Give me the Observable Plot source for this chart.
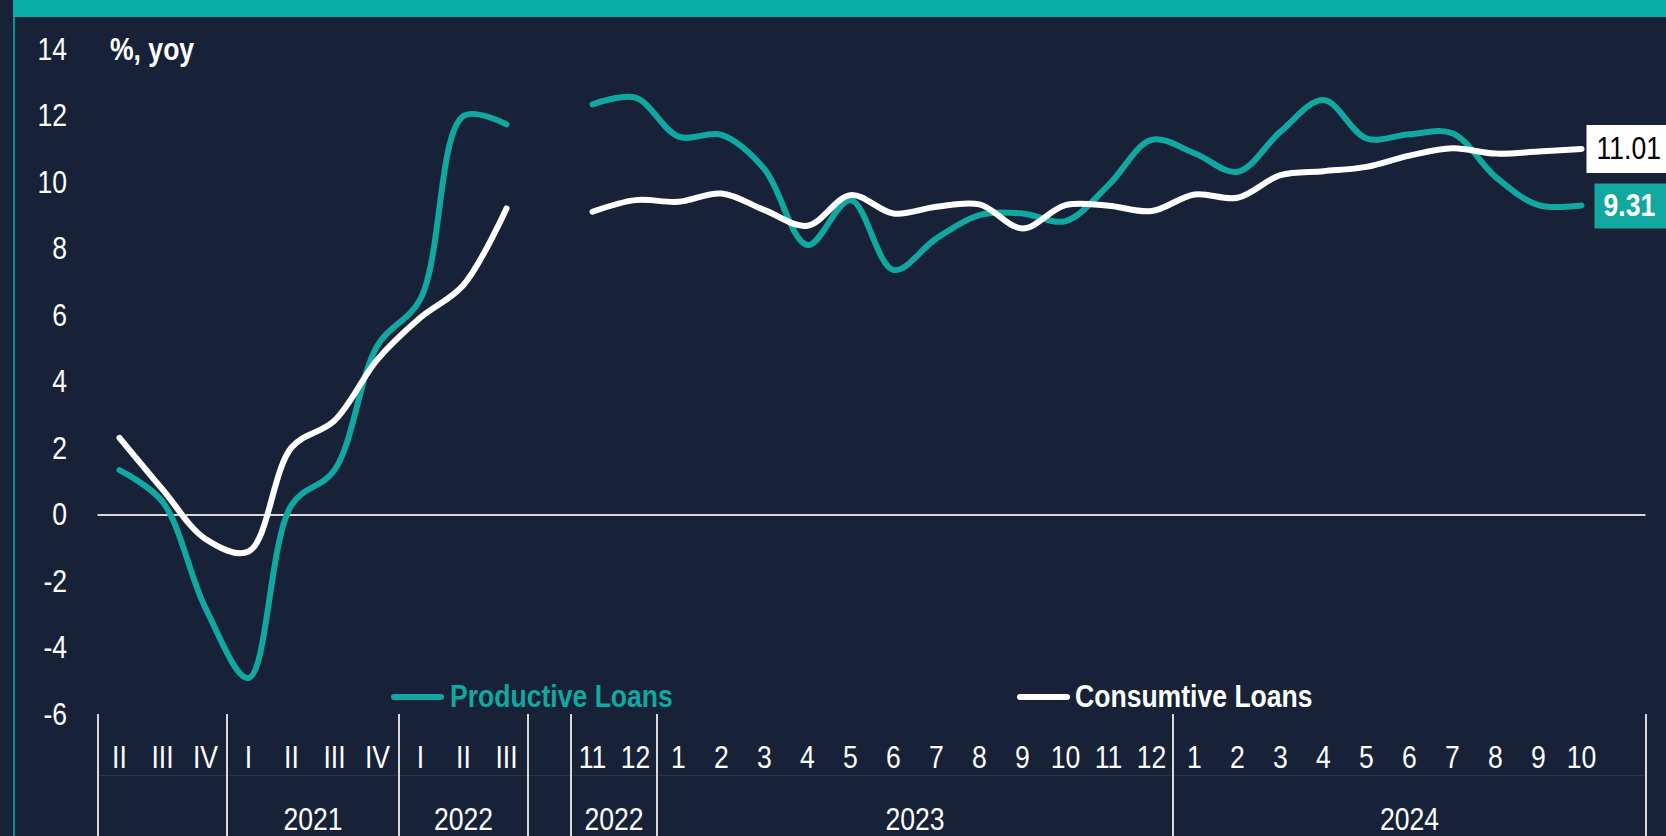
<!DOCTYPE html>
<html>
<head>
<meta charset="utf-8">
<script src="https://cdn.jsdelivr.net/npm/d3@7"></script>
<script src="https://cdn.jsdelivr.net/npm/@observablehq/plot@0.6"></script>
<style>
  html, body { margin: 0; padding: 0; background: #172239; }
  #wrap { position: relative; width: 1666px; height: 836px; overflow: hidden; background: #172239;
          font-family: "Liberation Sans", Arial, sans-serif; }
  #band { position: absolute; left: 13px; top: 0; width: 1653px; height: 17px; background: #06AEA7; }
  #vline { position: absolute; left: 13px; top: 17px; width: 2px; height: 819px; background: #0E8F8A; }
  #chart { position: absolute; left: 0; top: 17px; }
  .lab { position: absolute; font-size: 32px; font-weight: bold; line-height: 36px; white-space: nowrap;
         transform: scaleX(0.83); transform-origin: 0 0; }
  .sw { position: absolute; height: 6px; border-radius: 3px; }
</style>
</head>
<body>
<div id="wrap">
  <div id="band"></div>
  <div id="vline"></div>
  <div id="chart"></div>
  <div class="lab" style="left:110px; top:31px; color:#ffffff;">%, yoy</div>
  <div class="sw" style="left:391px; top:694px; width:53px; background:#10A89F;"></div>
  <div class="lab" style="left:450px; top:678px; color:#10A89F;">Productive Loans</div>
  <div class="sw" style="left:1017px; top:694px; width:53px; background:#ffffff;"></div>
  <div class="lab" style="left:1075px; top:678px; color:#ffffff;">Consumtive Loans</div>
</div>
<script>
// Category labels (index 0..35)
const xLabels = ["II","III","IV","I","II","III","IV","I","II","III","",
  "11","12","1","2","3","4","5","6","7","8","9","10","11","12",
  "1","2","3","4","5","6","7","8","9","10",""];
// Group (year) labels for the second axis row
const groupLabel = ["", "2021", "2022", "", "2022", "2023", "2024"];
const groupFirst = [0, 3, 7, 10, 11, 13, 25];
const groupLast  = [2, 6, 9, 10, 12, 24, 35];
// Series (% yoy)
const productive = [1.35, 0.4, -2.8, -4.9, 0.3, 1.35, 5.1, 6.5, 12.0, 11.75, null,
  12.35, 12.55, 11.38, 11.43, 10.4, 8.12, 9.47, 7.37, 8.32, 9.02, 9.07, 8.84, 9.92, 11.28,
  10.88, 10.32, 11.53, 12.48, 11.33, 11.45, 11.48, 10.17, 9.32, 9.31];
const consumptive = [2.32, 0.77, -0.72, -1.1, 2.03, 2.84, 4.68, 5.94, 6.92, 9.22, null,
  9.12, 9.47, 9.42, 9.67, 9.17, 8.70, 9.62, 9.07, 9.27, 9.34, 8.62, 9.32, 9.30, 9.14,
  9.64, 9.54, 10.22, 10.34, 10.47, 10.81, 11.03, 10.87, 10.93, 11.01];
const yTicks = [-6, -4, -2, 0, 2, 4, 6, 8, 10, 12, 14];

const teal = "#10A89F";
const narrow = 0.83;
const prodData = productive.map((v, i) => ({i, v}));
const consData = consumptive.map((v, i) => ({i, v}));
const lastProd = [prodData[prodData.length - 1]];
const lastCons = [consData[consData.length - 1]];
const tickData = xLabels.map((t, i) => ({i, t}));
const groups = groupLabel.map((g, k) => ({g, c: (groupFirst[k] + groupLast[k]) / 2}));
const separators = groupFirst.map(f => f - 0.5).concat([groupLast[groupLast.length - 1] + 0.5]);

const boxSym = (x0, y0, w, h) => ({draw(ctx) { ctx.rect(x0, y0, w, h); }});

const chart = Plot.plot({
  width: 1666,
  height: 819,
  marginLeft: 97.5,
  marginRight: 20.5,
  marginTop: 32,
  marginBottom: 122,
  style: {background: "transparent", color: "#ffffff", fontFamily: '"Liberation Sans", Arial, sans-serif', overflow: "visible"},
  x: {type: "linear", domain: [-0.5, 35.5], axis: null},
  y: {domain: [-6, 14], label: null},
  marks: [
    Plot.axisY({ticks: yTicks, tickSize: 0, tickPadding: 31, tickFormat: d => String(d), fontSize: 32, label: null}),
    Plot.ruleY([0], {stroke: "#D9D9D9", strokeWidth: 2}),
    Plot.ruleX(separators, {y1: -6, y2: -10, stroke: "#D9D9D9", strokeWidth: 2}),
    Plot.ruleY([-6], {dy: 61, stroke: "#D9D9D9", strokeOpacity: 0.1, strokeWidth: 1}),
    Plot.text(tickData, {x: "i", text: "t", frameAnchor: "bottom", lineAnchor: "middle", dy: 43, fontSize: 32, fill: "#ffffff"}),
    Plot.text(groups, {x: "c", text: "g", frameAnchor: "bottom", lineAnchor: "middle", dy: 105, fontSize: 32, fill: "#ffffff"}),
    Plot.line(prodData, {x: "i", y: "v", stroke: teal, strokeWidth: 6, curve: "catmull-rom", strokeLinecap: "round", strokeLinejoin: "round"}),
    Plot.line(consData, {x: "i", y: "v", stroke: "#ffffff", strokeWidth: 6, curve: "catmull-rom", strokeLinecap: "round", strokeLinejoin: "round"}),
    Plot.dot(lastCons, {x: "i", y: "v", symbol: boxSym(5, -24, 100, 48), fill: "#ffffff", stroke: "none"}),
    Plot.dot(lastProd, {x: "i", y: "v", symbol: boxSym(13, -22, 100, 45), fill: teal, stroke: "none"}),
    Plot.text(lastCons, {x: "i", y: "v", text: d => d.v.toFixed(2), dx: 15, textAnchor: "start", fontSize: 32, fill: "#000000"}),
    Plot.text(lastProd, {x: "i", y: "v", text: d => d.v.toFixed(2), dx: 22, textAnchor: "start", fontSize: 32, fontWeight: "bold", fill: "#ffffff"})
  ]
});
// Emulate the narrow (condensed) typeface of the original by compressing text horizontally
d3.select(chart).selectAll("text").each(function() {
  const t = this.getAttribute("transform") || "";
  const x = this.getAttribute("x");
  if (x != null && x !== "") this.setAttribute("x", +x / narrow);
  this.setAttribute("transform", (t + " scale(" + narrow + ",1)").trim());
});
document.getElementById("chart").appendChild(chart);
</script>
</body>
</html>
